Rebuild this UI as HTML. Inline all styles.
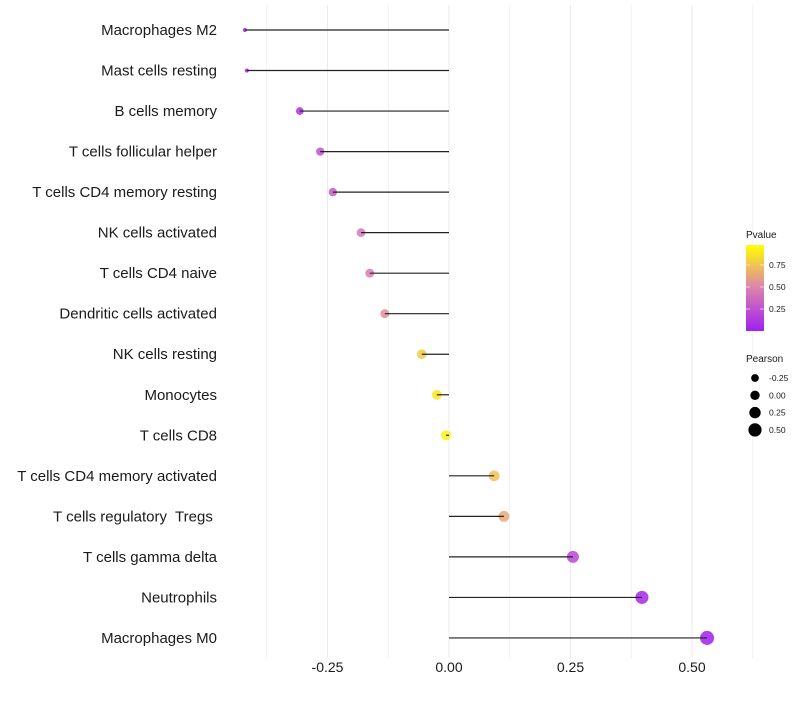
<!DOCTYPE html>
<html><head><meta charset="utf-8"><style>
body{margin:0;background:#fff;font-family:"Liberation Sans",sans-serif}
svg text{font-family:"Liberation Sans",sans-serif;white-space:pre}
</style></head><body>
<svg id="chart" width="800" height="700"></svg>
<script>
const categories=["Macrophages M2","Mast cells resting","B cells memory","T cells follicular helper","T cells CD4 memory resting","NK cells activated","T cells CD4 naive","Dendritic cells activated","NK cells resting","Monocytes","T cells CD8","T cells CD4 memory activated","T cells regulatory  Tregs ","T cells gamma delta","Neutrophils","Macrophages M0"];
const pearson=[-0.42,-0.416,-0.307,-0.265,-0.239,-0.181,-0.163,-0.132,-0.056,-0.025,-0.006,0.093,0.113,0.255,0.397,0.531];
const pvalues=[0.01,0.02,0.1,0.25,0.3,0.45,0.47,0.55,0.8,0.9,0.95,0.75,0.65,0.2,0.03,0.0];
const xTicks=[-0.25,0,0.25,0.5];
const xTickLabels=["-0.25","0.00","0.25","0.50"];
const pTicks=[0.25,0.5,0.75];
const sizeLegend=[-0.25,0,0.25,0.5];

const NS="http://www.w3.org/2000/svg";
const svg=document.getElementById('chart');
function el(t,a,p){const e=document.createElementNS(NS,t);for(const k in a)e.setAttribute(k,a[k]);(p||svg).appendChild(e);return e;}
const x=v=>449+v*486;
const y=i=>30+i*40.53;
const sd=[-0.42,-0.3,0,0.25,0.55], sr=[2,4,5,6,7.1];
function r(v){
  if(v<=sd[0])return sr[0];
  for(let k=1;k<sd.length;k++){if(v<=sd[k]){const t=(v-sd[k-1])/(sd[k]-sd[k-1]);return sr[k-1]+t*(sr[k]-sr[k-1]);}}
  return sr[sr.length-1];
}
function lerp(a,b,t){return Math.round(a+(b-a)*t);}
function col(p){
  const s=[[0,[160,32,240]],[0.5,[220,130,175]],[1,[255,255,0]]];
  let i=p<=0.5?0:1;const t=(p-s[i][0])/0.5;
  const a=s[i][1],b=s[i+1][1];
  return `rgb(${lerp(a[0],b[0],t)},${lerp(a[1],b[1],t)},${lerp(a[2],b[2],t)})`;
}
for(let g=-0.375;g<=0.63;g+=0.125){
  const l=el('line',{x1:x(g),x2:x(g),y1:5,y2:658,stroke:'#ebebeb','stroke-width':Math.abs(g*8%2)<0.01?1:0.6});
  
  
}
categories.forEach((c,i)=>{
  const t=el('text',{x:217,y:y(i)+5,'text-anchor':'end','font-size':15,fill:'#1a1a1a'});
  t.textContent=c;
  
  
  const d=el('circle',{cx:x(pearson[i]),cy:y(i),r:r(pearson[i]),fill:col(pvalues[i]),'fill-opacity':0.85});
  
  
  const s=el('line',{x1:x(0),x2:x(pearson[i]),y1:y(i),y2:y(i),stroke:'#222','stroke-width':1.2});
  
  
});
xTicks.forEach((v,i)=>{
  const t=el('text',{x:x(v),y:672,'text-anchor':'middle','font-size':14,fill:'#1a1a1a'});
  t.textContent=xTickLabels[i];
  
  
});
const lt=el('text',{x:746,y:238,'font-size':10,fill:'#1a1a1a'});lt.textContent='Pvalue';


const defs=el('defs',{});
const lg=el('linearGradient',{id:'pg',x1:0,y1:1,x2:0,y2:0},defs);
for(let k=0;k<=10;k++){el('stop',{offset:k/10,'stop-color':col(k/10)},lg);}
const bar=el('rect',{x:746,y:245,width:18,height:86,fill:'url(#pg)'});


pTicks.forEach(p=>{
  const yy=331-p*88;
  el('line',{x1:746,x2:750,y1:yy,y2:yy,stroke:'#fff','stroke-opacity':0.6});
  el('line',{x1:760,x2:764,y1:yy,y2:yy,stroke:'#fff','stroke-opacity':0.6});
  const t=el('text',{x:769,y:yy+3,'font-size':8.5,fill:'#1a1a1a'});t.textContent=p.toFixed(2);
  
  
});
const st=el('text',{x:746,y:362,'font-size':10,fill:'#1a1a1a'});st.textContent='Pearson';


sizeLegend.forEach((v,i)=>{
  const yy=378+i*17.3;
  const c=el('circle',{cx:755,cy:yy,r:r(v)-0.3,fill:'#000'});
  
  
  const t=el('text',{x:769,y:yy+3,'font-size':8.5,fill:'#1a1a1a'});t.textContent=v.toFixed(2);
  
  
});
</script>
</body></html>
